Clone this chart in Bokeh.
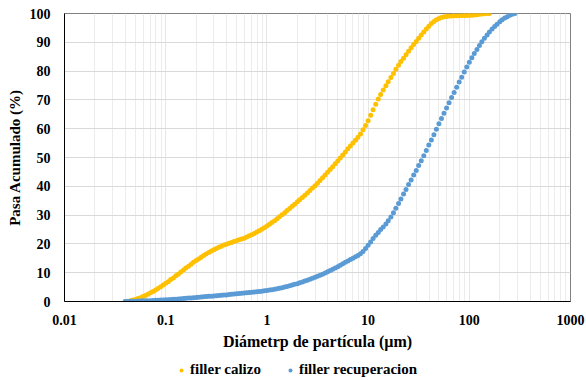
from bokeh.plotting import figure
from bokeh.layouts import column
from bokeh.models import FixedTicker, CustomJSTickFormatter, Legend, LegendItem, Range1d
from bokeh.embed import file_html
from bokeh.resources import INLINE

# particle size classes (µm)
sizes = [
    0.0398, 0.0422, 0.0447, 0.0473, 0.0501, 0.0531, 0.0562, 0.0596, 0.0631, 0.0668, 0.0708, 0.0750, 0.0794, 0.0841, 0.0891, 0.0944,
    0.100, 0.106, 0.112, 0.119, 0.126, 0.133, 0.141, 0.150, 0.158, 0.168, 0.178, 0.188, 0.200, 0.211, 0.224, 0.237, 0.251, 0.266, 0.282, 0.299,
    0.316, 0.335, 0.355, 0.376, 0.398, 0.422, 0.447, 0.473, 0.501, 0.531, 0.562, 0.596, 0.631, 0.668, 0.708, 0.750, 0.794, 0.841, 0.891, 0.944,
    1.00, 1.06, 1.12, 1.19, 1.26, 1.33, 1.41, 1.50, 1.58, 1.68, 1.78, 1.88, 2.00, 2.11, 2.24, 2.37, 2.51, 2.66, 2.82, 2.99,
    3.16, 3.35, 3.55, 3.76, 3.98, 4.22, 4.47, 4.73, 5.01, 5.31, 5.62, 5.96, 6.31, 6.68, 7.08, 7.50, 7.94, 8.41, 8.91, 9.44,
    10.0, 10.6, 11.2, 11.9, 12.6, 13.3, 14.1, 15.0, 15.8, 16.8, 17.8, 18.8, 20.0, 21.1, 22.4, 23.7, 25.1, 26.6, 28.2, 29.9,
    31.6, 33.5, 35.5, 37.6, 39.8, 42.2, 44.7, 47.3, 50.1, 53.1, 56.2, 59.6, 63.1, 66.8, 70.8, 75.0, 79.4, 84.1, 89.1, 94.4,
    100, 106, 112, 119, 126, 133, 141, 150, 158, 168, 178, 188, 200, 211, 224, 237, 251, 266, 282,
]

# cumulative passing (%) - filler calizo
calizo = [
    0.0, 0.1, 0.3, 0.5, 0.7, 1.0, 1.3, 1.7, 2.1, 2.5, 3.0, 3.5, 4.0, 4.5, 5.1, 5.7,
    6.3, 6.9, 7.6, 8.2, 8.9, 9.5, 10.2, 10.9, 11.6, 12.2, 12.9, 13.6, 14.2, 14.8, 15.4, 16.0, 16.5, 17.0, 17.5, 18.0,
    18.4, 18.8, 19.2, 19.6, 19.9, 20.2, 20.5, 20.8, 21.1, 21.4, 21.7, 22.0, 22.4, 22.8, 23.2, 23.6, 24.1, 24.6, 25.1, 25.6,
    26.2, 26.8, 27.4, 28.0, 28.7, 29.4, 30.1, 30.8, 31.6, 32.3, 33.1, 33.8, 34.6, 35.3, 36.1, 36.9, 37.7, 38.5, 39.4, 40.2,
    41.1, 42.0, 43.0, 43.9, 44.9, 45.8, 46.8, 47.8, 48.8, 49.8, 50.9, 51.9, 53.0, 54.0, 55.0, 56.0, 57.0, 58.2, 59.6, 61.1,
    62.8, 64.7, 66.6, 68.5, 70.3, 71.9, 73.4, 74.9, 76.3, 77.8, 79.2, 80.6, 82.0, 83.3, 84.5, 85.7, 86.9, 88.1, 89.2, 90.3,
    91.4, 92.5, 93.6, 94.6, 95.6, 96.5, 97.2, 97.8, 98.3, 98.6, 98.9, 99.0, 99.1, 99.1, 99.2, 99.2, 99.2, 99.3, 99.3, 99.3,
    99.4, 99.4, 99.5, 99.6, 99.7, 99.8, 99.9, 100.0, 100.0,
]

# cumulative passing (%) - filler recuperacion
recuperacion = [
    0.0, 0.02, 0.05, 0.08, 0.1, 0.15, 0.2, 0.22, 0.25, 0.28, 0.3, 0.35, 0.4, 0.45, 0.5, 0.55,
    0.6, 0.65, 0.7, 0.75, 0.8, 0.88, 0.95, 1.02, 1.1, 1.18, 1.25, 1.32, 1.4, 1.48, 1.55, 1.62, 1.7, 1.78, 1.85, 1.92,
    2.0, 2.08, 2.15, 2.22, 2.3, 2.4, 2.5, 2.58, 2.65, 2.75, 2.85, 2.92, 3.0, 3.1, 3.2, 3.3, 3.4, 3.5, 3.6, 3.7,
    3.8, 3.95, 4.1, 4.25, 4.4, 4.6, 4.8, 5.0, 5.2, 5.45, 5.7, 5.95, 6.2, 6.5, 6.8, 7.1, 7.4, 7.75, 8.1, 8.45,
    8.8, 9.15, 9.5, 9.9, 10.3, 10.75, 11.2, 11.65, 12.1, 12.6, 13.1, 13.6, 14.1, 14.55, 15.0, 15.5, 16.0, 16.6, 17.4, 18.4,
    19.5, 20.7, 21.9, 23.0, 24.0, 25.0, 25.9, 26.9, 28.0, 29.3, 30.8, 32.4, 34.0, 35.6, 37.3, 38.9, 40.6, 42.2, 43.9, 45.5,
    47.2, 48.9, 50.6, 52.4, 54.3, 56.1, 57.9, 59.8, 61.7, 63.5, 65.4, 67.2, 69.0, 70.8, 72.6, 74.4, 76.2, 77.9, 79.7, 81.4,
    83.1, 84.6, 86.1, 87.5, 88.9, 90.2, 91.4, 92.5, 93.6, 94.6, 95.5, 96.3, 97.1, 97.8, 98.4, 98.9, 99.4, 99.7, 100.0,
]

x_ticks = [0.01, 0.1, 1, 10, 100, 1000]
x_minor = [m * d for d in [0.01, 0.1, 1, 10, 100] for m in range(2, 10)]
y_ticks = [0, 10, 20, 30, 40, 50, 60, 70, 80, 90, 100]

series_names = ["filler calizo", "filler recuperacion"]
colors = ["#FFC000", "#5B9BD5"]

FONT = "Liberation Serif"

p = figure(width=586, height=352, x_axis_type="log",
           x_range=Range1d(0.01, 1000), y_range=Range1d(0, 100),
           output_backend="svg", toolbar_location=None,
           min_border_left=64, min_border_right=16, min_border_top=13, min_border_bottom=50)

r1 = p.scatter(sizes[:len(calizo)], calizo, size=5, color=colors[0], line_color=None)
r2 = p.scatter(sizes[:len(recuperacion)], recuperacion, size=5, color=colors[1], line_color=None)

p.xaxis.ticker = FixedTicker(ticks=x_ticks, minor_ticks=x_minor)
p.xaxis.formatter = CustomJSTickFormatter(code="return tick.toString();")
p.yaxis.ticker = FixedTicker(ticks=y_ticks)

for ax in [p.xaxis[0], p.yaxis[0]]:
    ax.axis_line_color = "black"
    ax.axis_line_width = 1
    ax.major_tick_line_color = None
    ax.minor_tick_line_color = None
    ax.major_label_text_font = FONT
    ax.major_label_text_font_style = "bold"
    ax.major_label_text_font_size = "14px"
    ax.major_label_text_color = "black"
    ax.axis_label_text_font = FONT
    ax.axis_label_text_font_style = "bold"
    ax.axis_label_text_color = "black"

p.xaxis.axis_label = "Diámetrp de partícula (µm)"
p.yaxis.axis_label = "Pasa Acumulado (%)"
p.xaxis.axis_label_text_font_size = "16px"
p.yaxis.axis_label_text_font_size = "15px"
p.xaxis.major_label_standoff = 7
p.xaxis.axis_label_standoff = 5
p.yaxis.major_label_standoff = 8
p.yaxis.axis_label_standoff = 4

p.xgrid.grid_line_color = "#e6e6e6"
p.xgrid.minor_grid_line_color = "#ececec"
p.ygrid.grid_line_color = "#d9d9d9"
p.outline_line_color = "#808080"
p.outline_line_width = 1

# legend strip below the chart (its renderers sit outside the visible ranges)
lg = figure(width=586, height=28, output_backend="svg", toolbar_location=None,
            x_range=Range1d(-10, -5), y_range=Range1d(-10, -5),
            x_axis_location=None, y_axis_location=None,
            min_border=0, min_border_left=0, min_border_right=0,
            min_border_top=0, min_border_bottom=0)
lg.outline_line_color = None
lg.xgrid.visible = False
lg.ygrid.visible = False
g1 = lg.scatter(sizes[:len(calizo)], calizo, size=5, color=colors[0], line_color=None)
g2 = lg.scatter(sizes[:len(recuperacion)], recuperacion, size=5, color=colors[1], line_color=None)

legend = Legend(items=[LegendItem(label=series_names[0], renderers=[g1]),
                       LegendItem(label=series_names[1], renderers=[g2])],
                orientation="horizontal", location=(112, 2),
                label_text_font=FONT, label_text_font_style="bold",
                label_text_font_size="15px", label_text_color="black",
                glyph_width=10, glyph_height=12, label_height=12,
                label_standoff=4, spacing=24,
                padding=0, margin=0, border_line_color=None, background_fill_alpha=0)
lg.add_layout(legend, "center")

layout = column(p, lg, spacing=0)
open("out.html", "w").write(file_html(layout, INLINE))
